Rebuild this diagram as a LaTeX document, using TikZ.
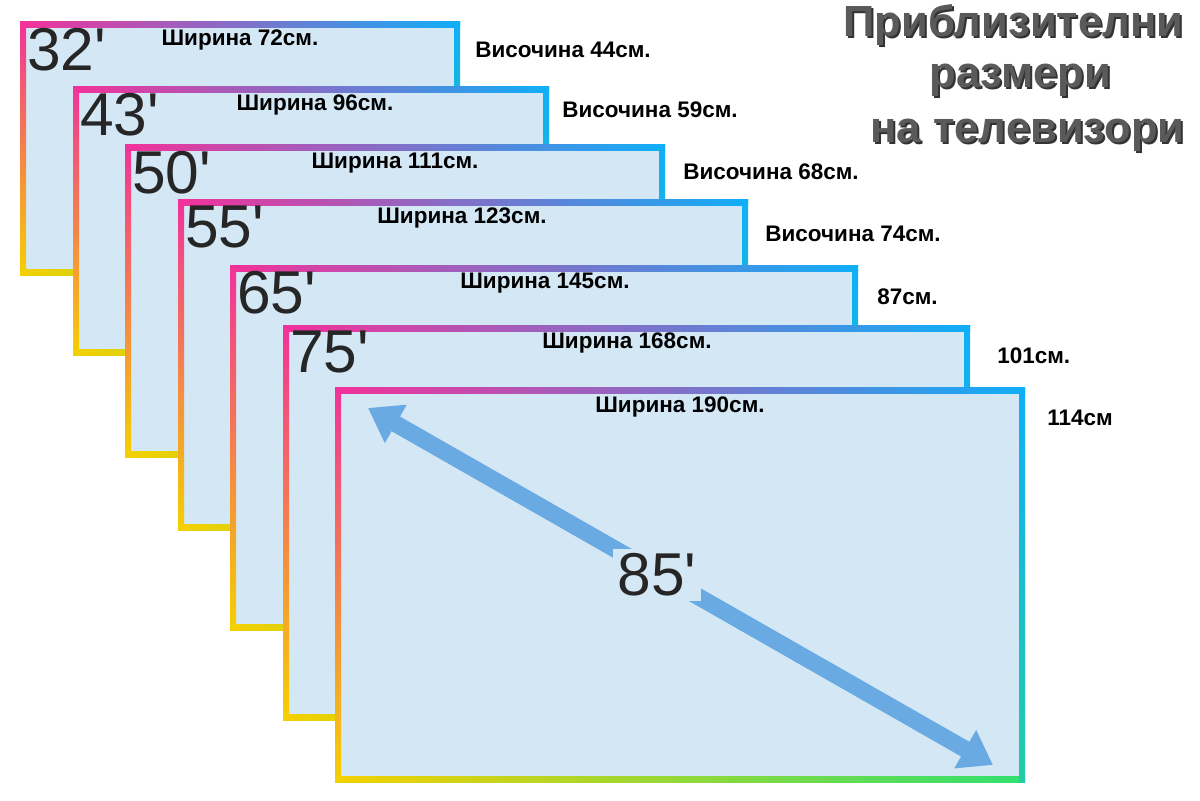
\documentclass[tikz,border=0pt]{standalone}
\usepackage{fontspec}
\setmainfont{Liberation Sans}
\usetikzlibrary{arrows.meta, positioning}

\definecolor{tvpink}{HTML}{F2329A}
\definecolor{tvcyan}{HTML}{10AEF8}
\definecolor{tvyellow}{HTML}{F5D000}
\definecolor{tvgreen}{HTML}{30E070}
\definecolor{tvscreen}{HTML}{D3E7F5}
\definecolor{tvarrow}{HTML}{6AAAE2}
\definecolor{titlegray}{HTML}{5A5A5A}

\tikzset{
  widthlabel/.style={font=\fontsize{16}{18}\selectfont\bfseries, inner sep=0pt},
  heightlabel/.style={font=\fontsize{16}{18}\selectfont\bfseries, anchor=west, inner sep=0pt},
  sizelabel/.style={font=\fontsize{43}{45}\selectfont, anchor=north west, inner sep=0pt, text=black!85},
  titleline/.style={font=\fontsize{31}{33}\selectfont\bfseries, inner sep=0pt},
}

% one screen: frame with gradient edges
\newcommand{\tvframe}[4]{%
  \fill[tvscreen] (#1,#2) rectangle (#3,#4);
  \shade[left color=tvpink, right color=tvcyan] (#1,#2) rectangle (#3,#2+6);
  \shade[top color=tvpink, bottom color=tvyellow] (#1,#2) rectangle (#1+6,#4);
  \shade[left color=tvyellow, right color=tvgreen] (#1,#4-6) rectangle (#3,#4);
  \shade[top color=tvcyan, bottom color=tvcyan!40!tvgreen] (#3-6,#2) rectangle (#3,#4);
}

\begin{document}
\begin{tikzpicture}[x=0.025cm, y=-0.025cm]
    \useasboundingbox (0,0) rectangle (1200,800);
    \fill[white] (0,0) rectangle (1200,800);

    % Screens 32' to 75'
    \foreach \xa/\ya/\xb/\yb/\sz/\wx/\wval/\hy/\hx/\hval in {
        20/22/460/275/32/240/72/50/475/Височина 44см.,
        73/87/549/355/43/315/96/110/562/Височина 59см.,
        125/145/665/457/50/395/111/172/683/Височина 68см.,
        178/200/748/530/55/462/123/234/765/Височина 74см.,
        230/265/858/630/65/545/145/297/877/87см.,
        283/325/970/720/75/627/168/356/997/101см.}{
      \tvframe{\xa}{\ya}{\xb}{\yb}
      \node[sizelabel] (s\sz) at (\xa+7,\ya+6) {\sz\textquotesingle};
      \node[widthlabel] (w\sz) at (\wx,\ya+18) {Ширина \wval см.};
      \node[heightlabel] (h\sz) at (\hx,\hy) {\hval};
    }

    % Screen 85'
    \tvframe{335}{387}{1025}{782}
    \node[widthlabel] (w85) at (680,407) {Ширина 190см.};
    \node[heightlabel] (h85) at (1047,418) {114см};

    % Diagonal
    \coordinate (d1) at (368,408);
    \coordinate (d2) at (993,765);
    \draw[tvarrow, line width=12pt, {Triangle[length=0.8cm,width=1.05cm]}-{Triangle[length=0.8cm,width=1.05cm]}] (d1) -- (d2);
    \node[fill=tvscreen, inner sep=3pt, font=\fontsize{43}{45}\selectfont, text=black!85] (s85) at (657,575) {85\textquotesingle};

    % Title
    \foreach \ty/\ttext in {25/Приблизителни, 80/размери, 135/на телевизори}{
      \node[titleline, text=black!80] at (1012+\ty*0.13,\ty+2.5) {\ttext};
      \node[titleline, text=titlegray] (t\ty) at (1010+\ty*0.13,\ty) {\ttext};
    }
\end{tikzpicture}
\end{document}
